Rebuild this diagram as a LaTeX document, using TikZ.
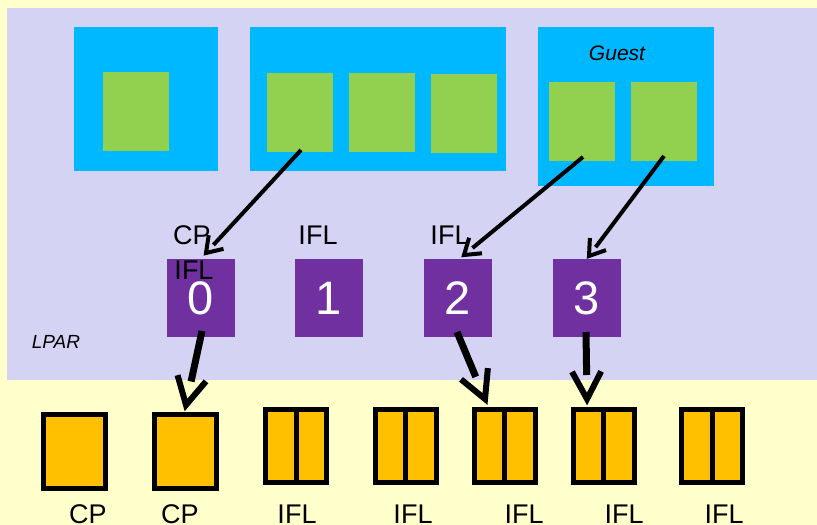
\documentclass[tikz,border=0pt]{standalone}
\usepackage{fontspec}
\setmainfont{Liberation Sans}
\usetikzlibrary{calc}
\definecolor{bgyellow}{RGB}{255,255,204}
\definecolor{lpar}{RGB}{212,211,243}
\definecolor{guestblue}{RGB}{0,184,255}
\definecolor{vgreen}{RGB}{146,208,80}
\definecolor{ifpurple}{RGB}{112,48,160}
\definecolor{corange}{RGB}{255,192,0}
\tikzset{
  guestbox/.style={fill=guestblue, draw=none, inner sep=0pt, outer sep=0pt},
  vcpu/.style={fill=vgreen, draw=none, inner sep=0pt, outer sep=0pt, minimum width=66pt, minimum height=79pt},
  lproc/.style={fill=ifpurple, draw=none, inner sep=0pt, outer sep=0pt, minimum width=68pt, minimum height=78pt, text=white, font=\fontsize{47}{47}\selectfont},
  cpbox/.style={fill=corange, draw=black, line width=5pt, inner sep=0pt, outer sep=0pt, minimum width=62pt, minimum height=74pt},
  iflbox/.style={fill=corange, draw=black, line width=5pt, inner sep=0pt, outer sep=0pt, minimum width=61pt, minimum height=73pt},
  lbl/.style={font=\fontsize{27}{27}\selectfont, inner sep=0pt},
  topshaft/.style={line width=4pt, shorten >=11pt},
  tophead/.style={line width=4pt, line join=miter},
  botshaft/.style={line width=7pt, shorten >=24pt},
  bothead/.style={line width=6pt, line join=miter},
}
\begin{document}
\begin{tikzpicture}[x=1pt,y=-1pt]
\useasboundingbox (0,0) rectangle (817,525);
\fill[bgyellow] (0,0) rectangle (817,525);
\fill[lpar] (7,8) rectangle (817,380);
\node[font=\itshape\fontsize{19}{19}\selectfont, inner sep=0pt] (lparlbl) at (56,342) {LPAR};

% guest boxes
\node[guestbox, minimum width=144pt, minimum height=144pt] (b1) at (146,99) {};
\node[guestbox, minimum width=256pt, minimum height=144pt] (b2) at (378,99) {};
\node[guestbox, minimum width=176pt, minimum height=159pt] (b3) at (626,106.5) {};
\node[font=\itshape\fontsize{21}{21}\selectfont, inner sep=0pt] (guest) at (617,53) {Guest};

% virtual CPUs
\node[vcpu] (g1) at (136,111.5) {};
\node[vcpu] (g2) at (299.5,112.5) {};
\node[vcpu] (g3) at (382,112) {};
\node[vcpu] (g4) at (464,113) {};
\node[vcpu] (g5) at (582,121) {};
\node[vcpu] (g6) at (664,121) {};

% logical processors
\node[lproc] (p0) at (201,298) {0};
\node[lproc] (p1) at (329,298) {1};
\node[lproc] (p2) at (458,298) {2};
\node[lproc] (p3) at (587,298) {3};

\node[lbl] (l0a) at (192,235) {CP};
\node[lbl] (l0b) at (194,270) {IFL};
\node[lbl] (l1) at (318,235) {IFL};
\node[lbl] (l2) at (450,235) {IFL};

% physical processors
\node[cpbox] (c1) at (74.5,451.5) {};
\node[cpbox] (c2) at (185.5,451.5) {};
\node[iflbox] (c3) at (296,446) {};
\node[iflbox] (c4) at (405.5,446) {};
\node[iflbox] (c5) at (504.5,446) {};
\node[iflbox] (c6) at (603.5,446) {};
\node[iflbox] (c7) at (712,446) {};
\foreach \n in {c3,c4,c5,c6,c7}{
  \draw[line width=5pt] (\n.north) -- (\n.south);
}
\node[lbl] (t1) at (88,514) {CP};
\node[lbl] (t2) at (180,514) {CP};
\node[lbl] (t3) at (297,514) {IFL};
\node[lbl] (t4) at (413,514) {IFL};
\node[lbl] (t5) at (524,514) {IFL};
\node[lbl] (t6) at (624,514) {IFL};
\node[lbl] (t7) at (724,514) {IFL};

% connector end points (apex of each arrowhead)
\coordinate (s1) at (301,150);
\coordinate (e1) at (206,253);
\coordinate (s2) at (583,157);
\coordinate (e2) at (464,255);
\coordinate (s3) at (664,156);
\coordinate (e3) at (589,256);
\coordinate (u1) at (202,331);
\coordinate (v1) at (186,405);
\coordinate (u2) at (457,332);
\coordinate (v2) at (485,399);
\coordinate (u3) at (586,332);
\coordinate (v3) at (587,399);

\foreach \s/\e in {s1/e1,s2/e2,s3/e3}{
  \draw[topshaft] (\s) -- (\e);
  \draw[tophead] ($(\e)!18pt!34:(\s)$) -- (\e) -- ($(\e)!18pt!-34:(\s)$);
}
\foreach \s/\e in {u1/v1,u2/v2,u3/v3}{
  \draw[botshaft] (\s) -- (\e);
  \draw[bothead] ($(\e)!31pt!28:(\s)$) -- (\e) -- ($(\e)!31pt!-28:(\s)$);
}
\end{tikzpicture}
\end{document}
